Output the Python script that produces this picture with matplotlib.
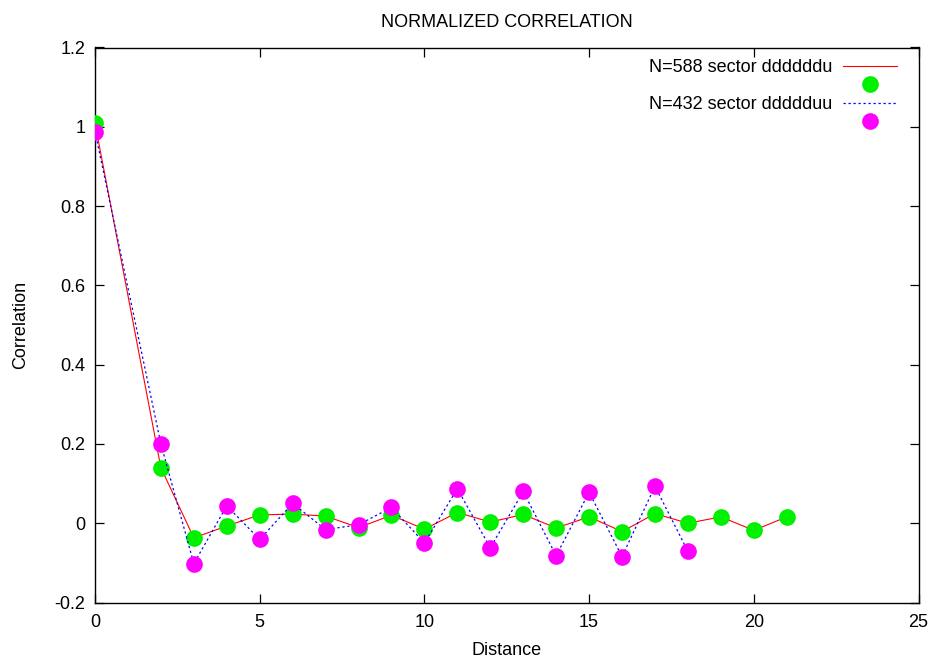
import matplotlib
matplotlib.use("Agg")
import matplotlib.pyplot as plt
from matplotlib.ticker import MultipleLocator

plt.rcParams['font.family'] = ['Liberation Sans', 'DejaVu Sans']

# Data
dist_588 = [0, 2, 3, 4, 5, 6, 7, 8, 9, 10, 11, 12, 13, 14, 15, 16, 17, 18, 19, 20, 21]
corr_588 = [1.009, 0.140, -0.037, -0.007, 0.021, 0.023, 0.018, -0.011, 0.020, -0.015,
            0.027, 0.003, 0.022, -0.012, 0.016, -0.021, 0.024, 0.000, 0.016, -0.018, 0.016]
dist_432 = [0, 2, 3, 4, 5, 6, 7, 8, 9, 10, 11, 12, 13, 14, 15, 16, 17, 18]
corr_432 = [0.988, 0.200, -0.102, 0.044, -0.041, 0.050, -0.016, -0.004, 0.040, -0.050,
            0.087, -0.062, 0.080, -0.082, 0.078, -0.084, 0.093, -0.071]
label_588 = "N=588 sector ddddddu"
label_432 = "N=432 sector ddddduu"
title = "NORMALIZED CORRELATION"
xlabel = "Distance"
ylabel = "Correlation"

W, H = 934, 659
fig = plt.figure(figsize=(W/100, H/100), dpi=100)
L, R, T, B = 95, 918.5, 47.5, 602.5
ax = fig.add_axes([L/W, 1 - B/H, (R-L)/W, (B-T)/H])

fs = 13
l1, = ax.plot(dist_588, corr_588, color='#ff0000', lw=0.8, zorder=2)
m1, = ax.plot(dist_588, corr_588, ls='none', marker='o', ms=12, color='#00f000',
              markeredgewidth=0, zorder=3)
l2, = ax.plot(dist_432, corr_432, color='#0000ff', lw=0.9, ls=(0, (1.8, 2.2)), zorder=4)
m2, = ax.plot(dist_432, corr_432, ls='none', marker='o', ms=12, color='#ff00ff',
              markeredgewidth=0, zorder=5)

ax.set_xlim(0, 25)
ax.set_ylim(-0.2, 1.2)
ax.xaxis.set_major_locator(MultipleLocator(5))
yt = [-0.2, 0, 0.2, 0.4, 0.6, 0.8, 1, 1.2]
ax.set_yticks(yt)
ax.set_yticklabels(['-0.2', '0', '0.2', '0.4', '0.6', '0.8', '1', '1.2'])
ax.tick_params(direction='in', length=6.5, width=0.9, top=True, right=True,
               labelsize=fs, pad=7)
ax.tick_params(axis='x', pad=8)
for s in ax.spines.values():
    s.set_linewidth(1.0)

ax.set_title(title, fontsize=fs, pad=15)
ax.set_xlabel(xlabel, fontsize=fs, labelpad=8)
ax.set_ylabel(ylabel, fontsize=fs, labelpad=18)

leg = ax.legend([l1, m1, l2, m2], [label_588, ' ', label_432, ' '],
                loc='upper right', bbox_to_anchor=(897/W, 1 - 59/H),
                bbox_transform=fig.transFigure, frameon=False, markerfirst=False,
                fontsize=fs, handlelength=3.0, handletextpad=0.6, labelspacing=0.08,
                borderaxespad=0, borderpad=0)

fig.savefig('out.png', dpi=100)
